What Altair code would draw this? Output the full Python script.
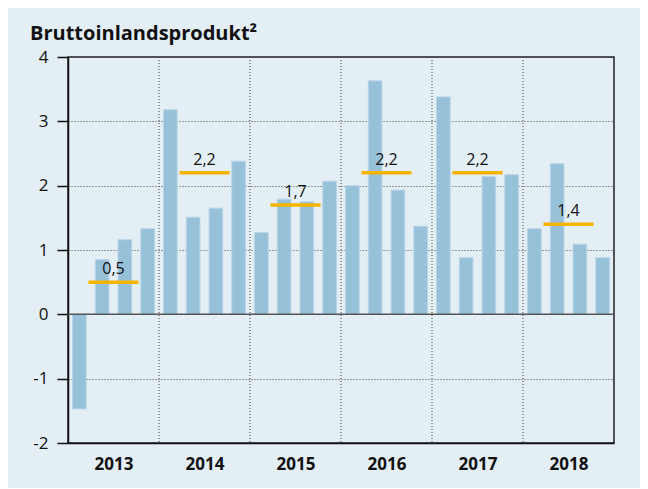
import altair as alt
import pandas as pd

years = ["2013", "2014", "2015", "2016", "2017", "2018"]
quarterly = [-1.47, 0.85, 1.16, 1.33,
             3.18, 1.51, 1.65, 2.38,
             1.27, 1.79, 1.75, 2.07,
             2.00, 3.63, 1.93, 1.37,
             3.38, 0.88, 2.14, 2.17,
             1.33, 2.34, 1.09, 0.88]
annual = [0.5, 2.2, 1.7, 2.2, 2.2, 1.4]
y_ticks = [-2, -1, 0, 1, 2, 3, 4]

FONT = "Open Sans"
n = len(quarterly)
q_per_year = 4

bars = pd.DataFrame({"i": list(range(n)), "v": quarterly})
bars["x0"] = bars["i"] + 0.2
bars["x1"] = bars["i"] + 0.8

avg = pd.DataFrame({"year": years, "v": annual})
avg["c"] = [q_per_year * k + 2 for k in range(len(years))]
avg["x0"] = avg["c"] - 1.1
avg["x1"] = avg["c"] + 1.1
avg["label"] = [f"{v:.1f}".replace(".", ",") for v in annual]

bounds = pd.DataFrame({"b": [q_per_year * k for k in range(1, len(years))]})
zero = pd.DataFrame({"y": [0]})

xscale = alt.Scale(domain=[0, n], nice=False, zero=False)
yscale = alt.Scale(domain=[y_ticks[0], y_ticks[-1]], nice=False)

label_expr = "[" + ",".join(f"'{y}'" for y in years) + "][floor(datum.value/4)]"

xaxis = alt.Axis(values=[q_per_year * k + 2 for k in range(len(years))],
                 labelExpr=label_expr, ticks=False, grid=False,
                 domainColor="#111", domainWidth=1.5,
                 labelFont=FONT, labelFontWeight="bold", labelFontSize=17,
                 labelColor="#111", labelPadding=13, title=None)
yaxis = alt.Axis(values=y_ticks, labelExpr="toString(datum.value)", grid=True,
                 gridDash=[1, 2], gridColor="#444", gridWidth=1, tickSize=11,
                 tickColor="#111", tickWidth=1.5, domainColor="#111",
                 domainWidth=1.5, labelFont=FONT, labelFontSize=17,
                 labelColor="#111", labelPadding=9, title=None)

bar_layer = alt.Chart(bars).mark_bar(color="#97c0d9", stroke="#b9d5e7",
                                     strokeWidth=1).encode(
    x=alt.X("x0:Q", scale=xscale, axis=xaxis),
    x2="x1:Q",
    y=alt.Y("v:Q", scale=yscale, axis=yaxis),
    y2=alt.datum(0),
)

bound_layer = alt.Chart(bounds).mark_rule(color="#444", strokeDash=[1, 2],
                                          strokeWidth=1).encode(
    x=alt.X("b:Q", scale=xscale),
)

zero_layer = alt.Chart(zero).mark_rule(color="#555", strokeWidth=1.5).encode(
    y=alt.Y("y:Q", scale=yscale),
)

avg_layer = alt.Chart(avg).mark_rule(color="#f5b400", strokeWidth=3.5).encode(
    x=alt.X("x0:Q", scale=xscale),
    x2="x1:Q",
    y=alt.Y("v:Q", scale=yscale),
)

txt_layer = alt.Chart(avg).mark_text(font=FONT, fontSize=16, color="#111",
                                     baseline="alphabetic", dy=-8).encode(
    x=alt.X("c:Q", scale=xscale),
    y=alt.Y("v:Q", scale=yscale),
    text="label:N",
)

chart = alt.layer(bound_layer, bar_layer, zero_layer, avg_layer, txt_layer).properties(
    width=546, height=386,
    autosize="none",
    padding={"left": 60, "top": 49, "right": 26, "bottom": 45},
    background="#e3eef5",
    title=alt.TitleParams("Bruttoinlandsprodukt²", anchor="start", frame="group",
                          dx=-38, dy=22, offset=10, fontSize=20, fontWeight="bold",
                          font=FONT, color="#111", baseline="alphabetic"),
).configure_view(stroke="#222", strokeWidth=1.5)

chart.save("out.html", embed_options={"renderer": "svg", "actions": False})
